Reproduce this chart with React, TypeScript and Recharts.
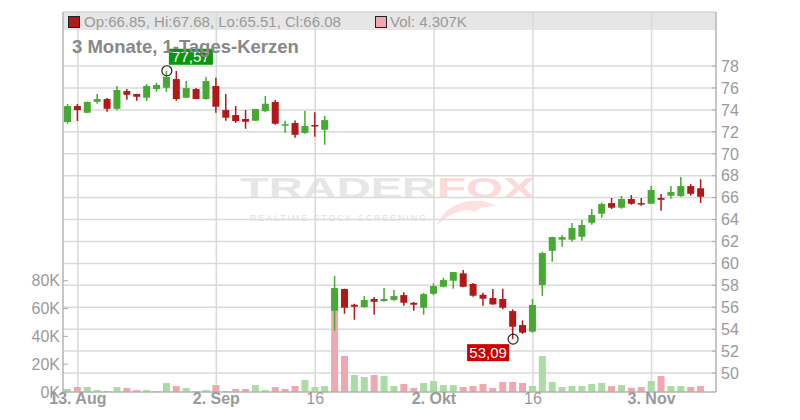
import React from 'react';
import {
    ComposedChart,
    Bar,
    Cell,
    XAxis,
    YAxis,
    CartesianGrid,
    ReferenceDot
} from 'recharts';

const FONT = '"Liberation Sans", Arial, sans-serif';

// trading days, 12 Aug - 10 Nov
const dates = [
    '08-12', '08-13', '08-14', '08-15', '08-18', '08-19', '08-20', '08-21', '08-22',
    '08-25', '08-26', '08-27', '08-28', '08-29',
    '09-01', '09-02', '09-03', '09-04', '09-05', '09-08', '09-09', '09-10', '09-11', '09-12',
    '09-15', '09-16', '09-17', '09-18', '09-19', '09-22', '09-23', '09-24', '09-25', '09-26',
    '09-29', '09-30',
    '10-01', '10-02', '10-03', '10-06', '10-07', '10-08', '10-09', '10-10', '10-13', '10-14',
    '10-15', '10-16', '10-17', '10-20', '10-21', '10-22', '10-23', '10-24', '10-27', '10-28',
    '10-29', '10-30', '10-31',
    '11-03', '11-04', '11-05', '11-06', '11-07', '11-10'
];

const opens = [
    72.89, 74.35, 73.74, 74.74, 74.99, 74.10, 75.72, 75.45, 75.11, 75.90,
    76.02, 76.81, 75.11, 75.90, 74.99, 76.18, 73.99, 73.53, 73.17, 73.01,
    73.90, 74.72, 72.68, 72.80, 71.89, 72.62, 72.19, 55.68, 57.66, 56.23,
    56.02, 56.75, 56.57, 56.66, 57.11, 56.41, 55.96, 57.23, 57.87, 58.42,
    59.09, 58.12, 57.14, 56.84, 56.75, 55.65, 54.38, 53.77, 58.03, 61.15,
    62.16, 62.16, 62.43, 63.71, 64.53, 65.50, 65.08, 65.87, 65.50, 65.44,
    65.96, 66.17, 66.14, 67.05, 66.85
];
const highs = [
    74.53, 74.53, 74.76, 75.45, 75.08, 76.18, 75.90, 75.47, 76.36, 76.48,
    77.57, 77.54, 76.63, 75.99, 77.00, 76.93, 75.45, 74.35, 73.99, 74.10,
    75.26, 74.90, 73.01, 73.04, 73.90, 73.78, 73.44, 58.85, 57.70, 56.32,
    57.02, 56.93, 57.75, 57.57, 57.36, 56.47, 57.32, 58.18, 58.69, 59.23,
    59.39, 58.21, 57.32, 57.66, 57.69, 55.81, 54.80, 56.75, 61.06, 62.42,
    62.59, 63.68, 63.95, 64.96, 65.53, 65.96, 66.14, 66.23, 65.96, 67.05,
    66.33, 67.05, 67.88, 67.24, 67.68
];
const lows = [
    72.74, 72.98, 73.72, 74.56, 73.83, 73.99, 74.93, 74.84, 74.81, 75.66,
    75.63, 74.84, 75.08, 74.97, 74.93, 73.74, 73.01, 72.80, 72.28, 72.98,
    73.78, 72.65, 71.92, 71.46, 71.83, 71.55, 70.82, 53.86, 55.41, 54.86,
    55.96, 55.32, 56.50, 56.57, 56.14, 55.68, 55.32, 57.11, 57.82, 57.69,
    57.82, 56.96, 56.14, 56.23, 55.81, 53.09, 53.56, 53.68, 57.02, 60.15,
    61.52, 61.98, 62.07, 63.53, 64.16, 64.96, 64.99, 65.35, 65.26, 65.42,
    64.80, 65.90, 66.08, 66.17, 65.51
];
const closes = [
    74.35, 73.99, 74.72, 74.99, 74.10, 75.81, 75.38, 75.20, 76.18, 76.27,
    77.02, 74.99, 75.99, 74.99, 76.63, 74.29, 73.29, 72.98, 72.92, 74.08,
    74.56, 72.74, 72.70, 71.73, 72.53, 72.56, 73.07, 57.75, 55.96, 56.05,
    56.66, 56.50, 56.75, 57.02, 56.41, 56.23, 57.20, 57.93, 58.48, 59.21,
    57.87, 57.05, 56.78, 56.26, 55.96, 54.22, 53.68, 56.20, 60.94, 62.40,
    62.40, 63.23, 63.50, 64.41, 65.41, 65.08, 65.87, 65.44, 65.42, 66.69,
    65.80, 66.51, 67.05, 66.35, 66.08
];
// volume in thousands
const volumes = [
    2.2, 3.6, 3.6, 1.4, 0.7, 3.6, 2.9, 1.4, 1.4, 0.7,
    6.5, 4.3, 2.9, 0.7, 1.4, 5.0, 0.7, 2.2, 2.2, 5.0,
    1.4, 3.6, 2.2, 4.3, 8.6, 3.6, 4.3, 60.0, 25.9, 12.2,
    10.8, 12.2, 11.5, 4.3, 5.8, 2.9, 6.5, 7.9, 5.0, 5.0,
    3.6, 4.3, 5.8, 2.9, 7.2, 7.2, 6.5, 4.3, 25.9, 7.2,
    3.6, 4.3, 4.3, 5.8, 6.5, 4.3, 5.0, 2.9, 3.6, 7.9,
    11.5, 4.3, 4.3, 3.6, 4.307
];

const xTicks = ['08-13', '09-02', '09-16', '10-02', '10-16', '11-03'];
const xTickLabels = ['13. Aug', '2. Sep', '16', '2. Okt', '16', '3. Nov'];
const priceTicks = [50, 52, 54, 56, 58, 60, 62, 64, 66, 68, 70, 72, 74, 76, 78];
const volTicks = [0, 20, 40, 60, 80];

const highMarkIdx = 10;
const lowMarkIdx = 45;

const GREEN = '#46aa32';
const RED = '#b31818';
const VOL_GREEN = '#aadca4';
const VOL_RED = '#f0a8b0';
const AXIS = '#aaaaaa';
const TICK_TXT = '#9a9a9a';

const data = dates.map((d, i) => ({
    date: d,
    range: [lows[i], highs[i]],
    open: opens[i],
    high: highs[i],
    low: lows[i],
    close: closes[i],
    vol: volumes[i],
    volUp: i === 0 ? closes[i] >= opens[i] : closes[i] >= closes[i - 1]
}));

const fmtDe = (v: number) => v.toFixed(2).replace('.', ',');

const Candle = (props: any) => {
    const { x, y, width, height, payload } = props;
    if (height == null || !payload) return null;
    const { open, close, high, low } = payload;
    const k = height / (high - low);
    const yO = y + (high - open) * k;
    const yC = y + (high - close) * k;
    const up = close >= open;
    const color = up ? GREEN : RED;
    const top = Math.min(yO, yC);
    const h = Math.max(Math.abs(yO - yC), 1.5);
    const cx = x + width / 2;
    return (
        <g>
            <line x1={cx} x2={cx} y1={y} y2={y + height} stroke={color} strokeWidth={1.5} />
            <rect x={x} y={top} width={width} height={h} fill={color} />
        </g>
    );
};

const PriceTick = (props: any) => {
    const { x, y, payload } = props;
    return (
        <g>
            <line x1={x - 9} x2={x - 5} y1={y} y2={y} stroke={AXIS} />
            <text x={x} y={y} dy="0.36em" fontSize={16} fill={TICK_TXT} fontFamily={FONT}>
                {payload.value}
            </text>
        </g>
    );
};

const VolTick = (props: any) => {
    const { x, y, payload } = props;
    return (
        <g>
            <line x1={x + 3} x2={x + 8} y1={y} y2={y} stroke={AXIS} />
            <text x={x} y={y} dy="0.36em" textAnchor="end" fontSize={16} fill={TICK_TXT} fontFamily={FONT}>
                {payload.value}K
            </text>
        </g>
    );
};

const DateTick = (props: any) => {
    const { x, y, payload } = props;
    const label = xTickLabels[xTicks.indexOf(payload.value)];
    const bold = label.indexOf('.') >= 0;
    return (
        <text
            x={x}
            y={y + 11}
            textAnchor="middle"
            fontSize={16}
            fontWeight={bold ? 'bold' : 'normal'}
            fill={TICK_TXT}
            fontFamily={FONT}
        >
            {label}
        </text>
    );
};

const HighMark = (props: any) => {
    const { cx, cy } = props;
    return (
        <g>
            <rect x={cx + 2} y={cy - 22} width={44} height={16} fill="#0a960a" />
            <text x={cx + 24} y={cy - 9} textAnchor="middle" fontSize={15} fill="#ffffff" fontFamily={FONT}>
                {fmtDe(highs[highMarkIdx])}
            </text>
            <circle cx={cx} cy={cy} r={5} fill="none" stroke="#222" strokeWidth={1.2} />
        </g>
    );
};

const LowMark = (props: any) => {
    const { cx, cy } = props;
    return (
        <g>
            <rect x={cx - 46} y={cy + 5} width={42} height={17} fill="#cc0000" />
            <text x={cx - 25} y={cy + 19} textAnchor="middle" fontSize={15} fill="#ffffff" fontFamily={FONT}>
                {fmtDe(lows[lowMarkIdx])}
            </text>
            <circle cx={cx} cy={cy} r={5} fill="none" stroke="#222" strokeWidth={1.2} />
        </g>
    );
};

const Watermark = () => (
    <svg width={800} height={420} style={{ position: 'absolute', left: 0, top: 0 }}>
        <text x={240} y={198} fontSize={30} fontWeight={900} fill="#e6e6e6" fontFamily={FONT}
            textLength={196} lengthAdjust="spacingAndGlyphs">TRADER</text>
        <text x={437} y={198} fontSize={30} fontWeight={900} fill="#fcdada" fontFamily={FONT}
            textLength={98} lengthAdjust="spacingAndGlyphs">FOX</text>
        <text x={250} y={221} fontSize={9} fill="#e2e2e2" fontFamily={FONT}
            textLength={176} lengthAdjust="spacing">REALTIME STOCK SCREENING</text>
        <path d="M436 226 Q446 204 470 201 Q486 200 496 206 Q480 206 474 212 Q468 208 458 212 Q446 216 436 226 Z"
            fill="#fde0e0" />
    </svg>
);

const App: React.FC = () => {
    const last = data.length - 1;
    return (
        <div style={{ position: 'absolute', left: 0, top: 0, width: 800, height: 420, fontFamily: FONT, background: '#fff' }}>
            <Watermark />
            <div style={{
                position: 'absolute', left: 63, top: 12, width: 653, height: 18,
                background: '#e6e6e6', borderTop: '1px solid #cccccc', boxSizing: 'border-box'
            }} />
            <div style={{ position: 'absolute', left: 0, top: 0 }}>
                <ComposedChart
                    width={800}
                    height={420}
                    data={data}
                    margin={{ top: 12, right: 0, bottom: 0, left: 8 }}
                >
                    <CartesianGrid
                        yAxisId="price"
                        stroke="#dadada"
                        strokeWidth={1.5}
                    />
                    <XAxis
                        dataKey="date"
                        ticks={xTicks}
                        interval={0}
                        height={28}
                        padding={{ left: 0, right: 10 }}
                        stroke={AXIS}
                        tickSize={0}
                        tickMargin={1}
                        tick={<DateTick />}
                    />
                    <XAxis xAxisId="v" dataKey="date" hide padding={{ left: 0, right: 10 }} />
                    <YAxis
                        yAxisId="vol"
                        orientation="left"
                        width={55}
                        domain={[0, 273.2]}
                        ticks={volTicks}
                        interval={0}
                        allowDataOverflow
                        stroke={AXIS}
                        tickSize={0}
                        tickMargin={3}
                        tick={<VolTick />}
                    />
                    <YAxis
                        yAxisId="price"
                        orientation="right"
                        width={84}
                        domain={[48.27, 82.93]}
                        ticks={priceTicks}
                        interval={0}
                        allowDataOverflow
                        stroke={AXIS}
                        tickSize={0}
                        tickMargin={5}
                        tick={<PriceTick />}
                    />
                    <Bar
                        xAxisId="v"
                        yAxisId="vol"
                        dataKey="vol"
                        barSize={7}
                        isAnimationActive={false}
                    >
                        {data.map((d, i) => (
                            <Cell key={i} fill={d.volUp ? VOL_GREEN : VOL_RED} />
                        ))}
                    </Bar>
                    <Bar
                        yAxisId="price"
                        dataKey="range"
                        barSize={7}
                        shape={<Candle />}
                        isAnimationActive={false}
                    />
                    <ReferenceDot
                        yAxisId="price"
                        x={dates[highMarkIdx]}
                        y={highs[highMarkIdx]}
                        r={5}
                        shape={<HighMark />}
                    />
                    <ReferenceDot
                        yAxisId="price"
                        x={dates[lowMarkIdx]}
                        y={lows[lowMarkIdx]}
                        r={5}
                        shape={<LowMark />}
                    />
                </ComposedChart>
            </div>
            <div style={{ position: 'absolute', left: 68, top: 16, width: 10, height: 10, background: RED, border: '1px solid #222' }} />
            <div style={{ position: 'absolute', left: 84, top: 13, fontSize: 15, color: '#999', lineHeight: '18px', whiteSpace: 'nowrap' }}>
                {`Op:${opens[last].toFixed(2)}, Hi:${highs[last].toFixed(2)}, Lo:${lows[last].toFixed(2)}, Cl:${closes[last].toFixed(2)}`}
            </div>
            <div style={{ position: 'absolute', left: 375, top: 16, width: 10, height: 10, background: VOL_RED, border: '1px solid #222' }} />
            <div style={{ position: 'absolute', left: 390, top: 13, fontSize: 15, color: '#999', lineHeight: '18px', whiteSpace: 'nowrap' }}>
                {`Vol: ${volumes[last].toFixed(3)}K`}
            </div>
            <div style={{ position: 'absolute', left: 72, top: 36, fontSize: 18.5, fontWeight: 'bold', color: '#888', lineHeight: '22px', whiteSpace: 'nowrap' }}>
                3 Monate, 1-Tages-Kerzen
            </div>
        </div>
    );
};

export default App;
